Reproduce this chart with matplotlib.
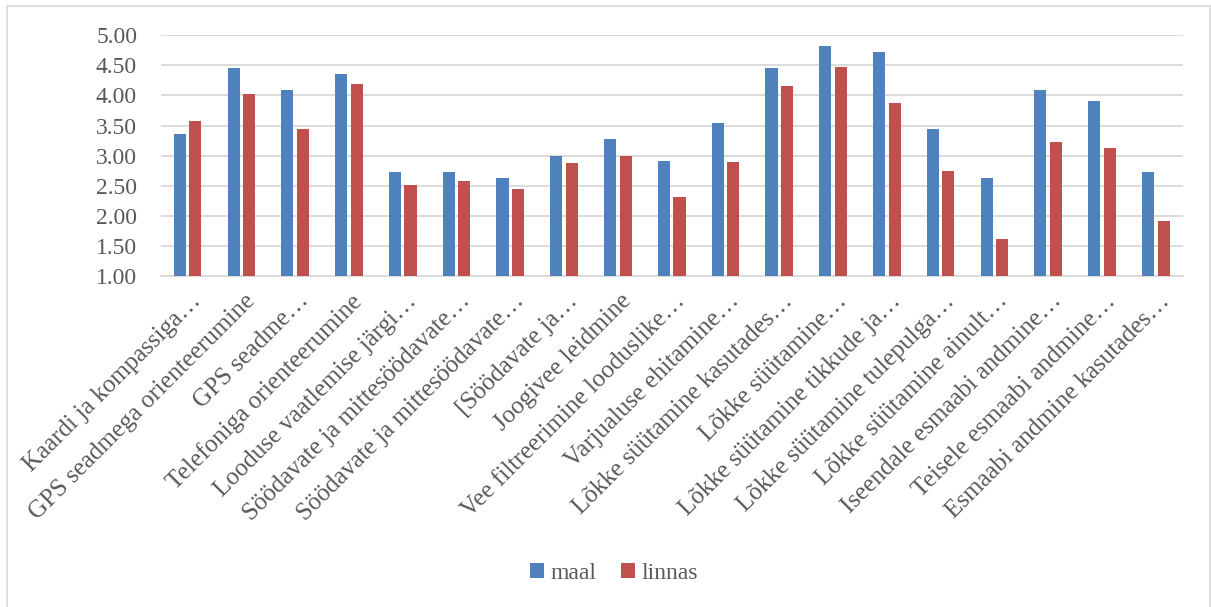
import matplotlib.pyplot as plt
import matplotlib.transforms as mtransforms
from matplotlib.lines import Line2D
import numpy as np

categories = [
    "Kaardi ja kompassiga…",
    "GPS seadmega orienteerumine",
    "GPS seadme…",
    "Telefoniga orienteerumine",
    "Looduse vaatlemise järgi…",
    "Söödavate ja mittesöödavate…",
    "Söödavate ja mittesöödavate…",
    "[Söödavate ja…",
    "Joogivee leidmine",
    "Vee filtreerimine looduslike…",
    "Varjualuse ehitamine…",
    "Lõkke süütamine kasutades…",
    "Lõkke süütamine…",
    "Lõkke süütamine tikkude ja…",
    "Lõkke süütamine tulepulga…",
    "Lõkke süütamine ainult…",
    "Iseendale esmaabi andmine…",
    "Teisele esmaabi andmine…",
    "Esmaabi andmine kasutades…",
]
maal = [3.36, 4.45, 4.09, 4.36, 2.73, 2.73, 2.63, 3.00, 3.27, 2.91,
        3.54, 4.45, 4.82, 4.73, 3.45, 2.63, 4.09, 3.91, 2.73]
linnas = [3.58, 4.03, 3.45, 4.19, 2.52, 2.58, 2.45, 2.87, 3.00, 2.32,
          2.90, 4.16, 4.48, 3.87, 2.74, 1.61, 3.22, 3.13, 1.91]
yticks = [1.0, 1.5, 2.0, 2.5, 3.0, 3.5, 4.0, 4.5, 5.0]

plt.rcParams['font.family'] = ['Liberation Serif', 'DejaVu Serif']
txt_color = '#595959'
grid_color = '#d9d9d9'

fig = plt.figure(figsize=(12.11, 6.07), dpi=100)
ax = fig.add_axes([0.1327, 0.5453, 0.8439, 0.3965])

x = np.arange(len(categories))
w = 0.225
ax.bar(x - 0.145, maal, width=w, bottom=0, color='#4f81bd', label='maal', zorder=3)
ax.bar(x + 0.145, linnas, width=w, bottom=0, color='#c0504d', label='linnas', zorder=3)

ax.set_xlim(-0.5, len(categories) - 0.5)
ax.set_ylim(1, 5)
ax.set_yticks(yticks)
ax.set_yticklabels(["%.2f" % v for v in yticks])
ax.yaxis.grid(True, color=grid_color, linewidth=1.3, zorder=0)
ax.set_axisbelow(True)
for s in ['top', 'right', 'left']:
    ax.spines[s].set_visible(False)
ax.spines['bottom'].set_color(grid_color)
ax.spines['bottom'].set_linewidth(1.3)
ax.tick_params(axis='y', length=0, pad=17, labelsize=17, labelcolor=txt_color)
ax.tick_params(axis='x', length=0, pad=10)

ax.set_xticks(x)
ax.set_xticklabels(categories, rotation=45, ha='right', va='top',
                   fontsize=18, color=txt_color)
offset = mtransforms.ScaledTranslation(18 / 100, 0, fig.dpi_scale_trans)
for lab in ax.get_xticklabels():
    lab.set_transform(lab.get_transform() + offset)

fig.legend(loc='center', bbox_to_anchor=(0.507, 0.056), ncol=2, frameon=False,
           fontsize=17, labelcolor=txt_color, handlelength=0.6, handleheight=0.6,
           handletextpad=0.3, columnspacing=1.0)

# outer chart border
fig.add_artist(Line2D([7 / 1211, 7 / 1211], [0, 1 - 6 / 607], transform=fig.transFigure,
                      color=grid_color, linewidth=1.2))
fig.add_artist(Line2D([7 / 1211, 1210 / 1211], [1 - 6 / 607, 1 - 6 / 607],
                      transform=fig.transFigure, color=grid_color, linewidth=1.2))
fig.add_artist(Line2D([1210 / 1211, 1210 / 1211], [0, 1 - 6 / 607], transform=fig.transFigure,
                      color=grid_color, linewidth=1.2))

fig.savefig('out.png', dpi=100)
